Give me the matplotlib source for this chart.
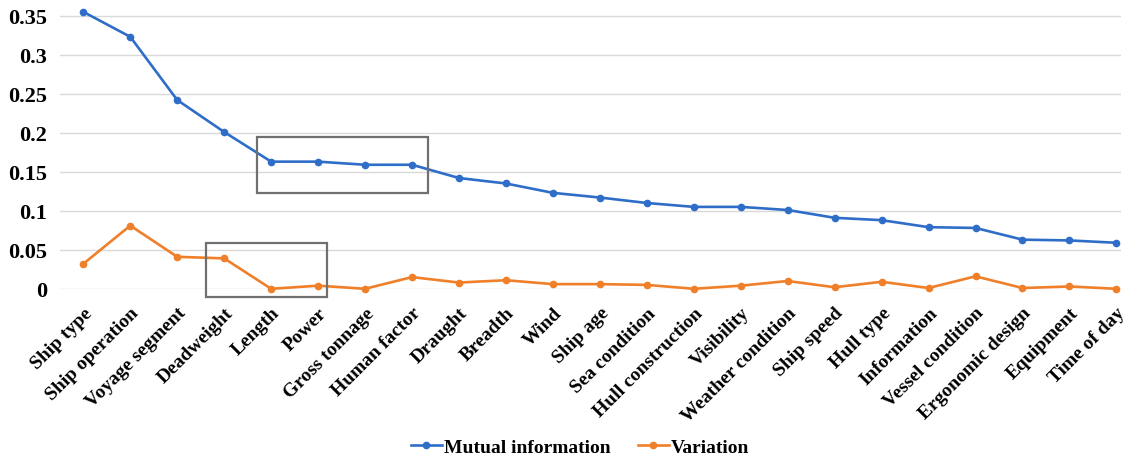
import numpy as np
import matplotlib.pyplot as plt
from matplotlib.patches import Rectangle

factors = ["Ship type", "Ship operation", "Voyage segment", "Deadweight", "Length",
           "Power", "Gross tonnage", "Human factor", "Draught", "Breadth", "Wind",
           "Ship age", "Sea condition", "Hull construction", "Visibility",
           "Weather condition", "Ship speed", "Hull type", "Information",
           "Vessel condition", "Ergonomic design", "Equipment", "Time of day"]
mutual_info = [0.355, 0.323, 0.242, 0.201, 0.163, 0.163, 0.159, 0.159, 0.142, 0.135,
               0.123, 0.117, 0.110, 0.105, 0.105, 0.101, 0.091, 0.088, 0.079, 0.078,
               0.063, 0.062, 0.059]
variation = [0.032, 0.081, 0.041, 0.039, 0.0, 0.004, 0.0, 0.015, 0.008, 0.011,
             0.006, 0.006, 0.005, 0.0, 0.004, 0.010, 0.002, 0.009, 0.001, 0.016,
             0.001, 0.003, 0.0]
yticks = [0, 0.05, 0.1, 0.15, 0.2, 0.25, 0.3, 0.35]
ytick_labels = ["0", "0.05", "0.1", "0.15", "0.2", "0.25", "0.3", "0.35"]

plt.rcParams['font.family'] = ['Liberation Serif', 'DejaVu Serif']
plt.rcParams['font.weight'] = 'bold'

fig = plt.figure(figsize=(11.29, 4.6), dpi=100)
ax = fig.add_axes([0.053, 0.37, 0.94, 0.619])

x = np.arange(len(factors))
ax.plot(x, mutual_info, color='#2F6EC8', lw=1.9, marker='o', ms=4.5,
        label='Mutual information', clip_on=False, zorder=3)
ax.plot(x, variation, color='#F07F2A', lw=1.9, marker='o', ms=4.5,
        label='Variation', clip_on=False, zorder=3)

# highlight boxes
ax.add_patch(Rectangle((3.69, 0.123), 3.66, 0.071, fill=False,
                       ec='#707070', lw=1.6, zorder=4))
ax.add_patch(Rectangle((2.61, -0.010), 2.59, 0.069, fill=False,
                       ec='#707070', lw=1.6, zorder=4, clip_on=False))

ax.set_xlim(-0.5, 22.1)
ax.set_ylim(0, 0.365)
ax.set_yticks(yticks)
ax.set_yticklabels(ytick_labels, fontsize=16, fontweight='bold')
ax.set_xticks(x)
ax.set_xticklabels(factors, rotation=45, ha='right', rotation_mode='anchor',
                   fontsize=14, fontweight='bold')
ax.tick_params(axis='y', length=0, pad=9)
ax.tick_params(axis='x', length=0, pad=11)
ax.grid(axis='y', color='#D9D9D9', lw=1)
ax.set_axisbelow(True)
for s in ax.spines.values():
    s.set_visible(False)

fig.legend(loc='center', bbox_to_anchor=(580 / 1129, 1 - 448 / 460), ncol=2,
           frameon=False, handlelength=1.6, columnspacing=1.4,
           handletextpad=0.1, prop={'weight': 'bold', 'size': 14})

fig.savefig('out.png', dpi=100)
